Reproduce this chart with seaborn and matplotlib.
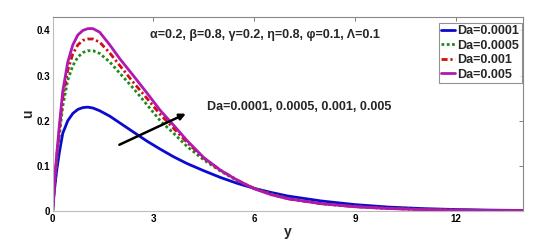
import matplotlib
matplotlib.use("Agg")
import matplotlib.pyplot as plt
import seaborn as sns
import pandas as pd

# ---- data ----
y_grid = [0, 0.05, 0.12, 0.2, 0.3, 0.45, 0.6, 0.75, 0.9, 1.05, 1.2, 1.4, 1.7, 2.0,
          2.4, 2.8, 3.2, 3.6, 4.0, 4.5, 5.0, 5.5, 6.0, 6.5, 7.0, 8.0, 9.0, 10, 11,
          12, 13, 14]

u_da_0001 = [0, 0.045, 0.09, 0.13, 0.172, 0.2, 0.216, 0.225, 0.229, 0.23, 0.228,
             0.222, 0.21, 0.195, 0.175, 0.155, 0.137, 0.12, 0.105, 0.089, 0.074,
             0.061, 0.05, 0.041, 0.033, 0.022, 0.014, 0.0085, 0.0052, 0.0031,
             0.0018, 0.001]
u_da_0005 = [0, 0.054, 0.11, 0.168, 0.232, 0.29, 0.322, 0.341, 0.351, 0.355, 0.355,
             0.349, 0.33, 0.305, 0.272, 0.236, 0.2, 0.172, 0.143, 0.113, 0.088,
             0.067, 0.05, 0.038, 0.028, 0.016, 0.0097, 0.0057, 0.0033, 0.0019,
             0.0011, 0.0006]
u_da_001 = [0, 0.057, 0.118, 0.18, 0.25, 0.312, 0.348, 0.368, 0.378, 0.381, 0.381,
            0.374, 0.35, 0.322, 0.285, 0.25, 0.214, 0.183, 0.152, 0.117, 0.09,
            0.068, 0.05, 0.037, 0.027, 0.016, 0.0095, 0.0055, 0.0032, 0.0018,
            0.001, 0.0006]
u_da_005 = [0, 0.06, 0.125, 0.19, 0.265, 0.33, 0.368, 0.39, 0.4, 0.404, 0.404,
            0.396, 0.368, 0.337, 0.3, 0.262, 0.223, 0.19, 0.156, 0.118, 0.09,
            0.068, 0.049, 0.036, 0.027, 0.016, 0.0092, 0.0052, 0.003, 0.0017,
            0.001, 0.0006]

series_labels = ["Da=0.0001", "Da=0.0005", "Da=0.001", "Da=0.005"]
series_values = [u_da_0001, u_da_0005, u_da_001, u_da_005]

x_ticks = [0, 3, 6, 9, 12]
y_ticks = [0, 0.1, 0.2, 0.3, 0.4]
y_tick_labels = ["0", "0.1", "0.2", "0.3", "0.4"]

arrow_start = (1.91, 0.144)
arrow_end = (4.04, 0.218)

param_text = "α=0.2, β=0.8, γ=0.2, η=0.8, φ=0.1, Λ=0.1"
da_text = "Da=0.0001, 0.0005, 0.001, 0.005"

# ---- styling ----
colors = ["#0a0ad0", "#1e8a1e", "#d01010", "#b018b0"]
styles = ["-", (0, (1, 0.9)), (0, (2.2, 1.0, 0.8, 1.0)), "-"]

sns.set_theme(style="white")
plt.rcParams["font.family"] = ["Liberation Sans", "DejaVu Sans"]
plt.rcParams["font.weight"] = "bold"

frames = []
for lab, vals in zip(series_labels, series_values):
    frames.append(pd.DataFrame({"y": y_grid, "u": vals, "series": lab}))
df = pd.concat(frames, ignore_index=True)

fig = plt.figure(figsize=(5.43, 2.52), dpi=100)
ax = fig.add_axes([0.097, 0.163, 0.866, 0.77])

for lab, col, ls in zip(series_labels, colors, styles):
    sub = df[df["series"] == lab]
    sns.lineplot(data=sub, x="y", y="u", ax=ax, color=col, linestyle=ls,
                 linewidth=2.0, label=lab, sort=False, estimator=None)

ax.set_xlim(0, 14)
ax.set_ylim(0, 0.43)
ax.set_xticks(x_ticks)
ax.set_xticklabels([str(t) for t in x_ticks])
ax.set_yticks(y_ticks)
ax.set_yticklabels(y_tick_labels)
ax.tick_params(direction="in", length=3, width=0.6, labelsize=7,
               top=True, right=True, pad=2, colors="#666666", labelcolor="black")
for lbl in ax.get_xticklabels() + ax.get_yticklabels():
    lbl.set_fontweight("bold")

ax.set_xlabel("y", fontsize=10, fontweight="bold", labelpad=1)
ax.set_ylabel("u", fontsize=10, fontweight="bold", labelpad=1)

for side in ["left", "bottom"]:
    ax.spines[side].set_color("#bbbbbb")
for side in ["right", "top"]:
    ax.spines[side].set_color("#888888")
for s in ax.spines.values():
    s.set_linewidth(0.8)

ax.annotate("", xy=arrow_end, xytext=arrow_start,
            arrowprops=dict(arrowstyle="-|>,head_length=0.3,head_width=0.15",
                            color="black", lw=1.8))

ax.text(0.452, 0.905, param_text, transform=ax.transAxes, ha="center",
        va="center", fontsize=9, fontweight="bold")
ax.text(0.328, 0.536, da_text, transform=ax.transAxes, ha="left",
        va="center", fontsize=9, fontweight="bold")

leg = ax.legend(loc="upper right", bbox_to_anchor=(0.998, 0.97),
                borderaxespad=0, fontsize=9, frameon=True, fancybox=False,
                handlelength=1.1, handletextpad=0.2, labelspacing=0.2,
                borderpad=0.2)
leg.get_frame().set_edgecolor("#777777")
leg.get_frame().set_linewidth(0.8)
for t in leg.get_texts():
    t.set_fontweight("bold")

fig.savefig("out.png", dpi=100)
